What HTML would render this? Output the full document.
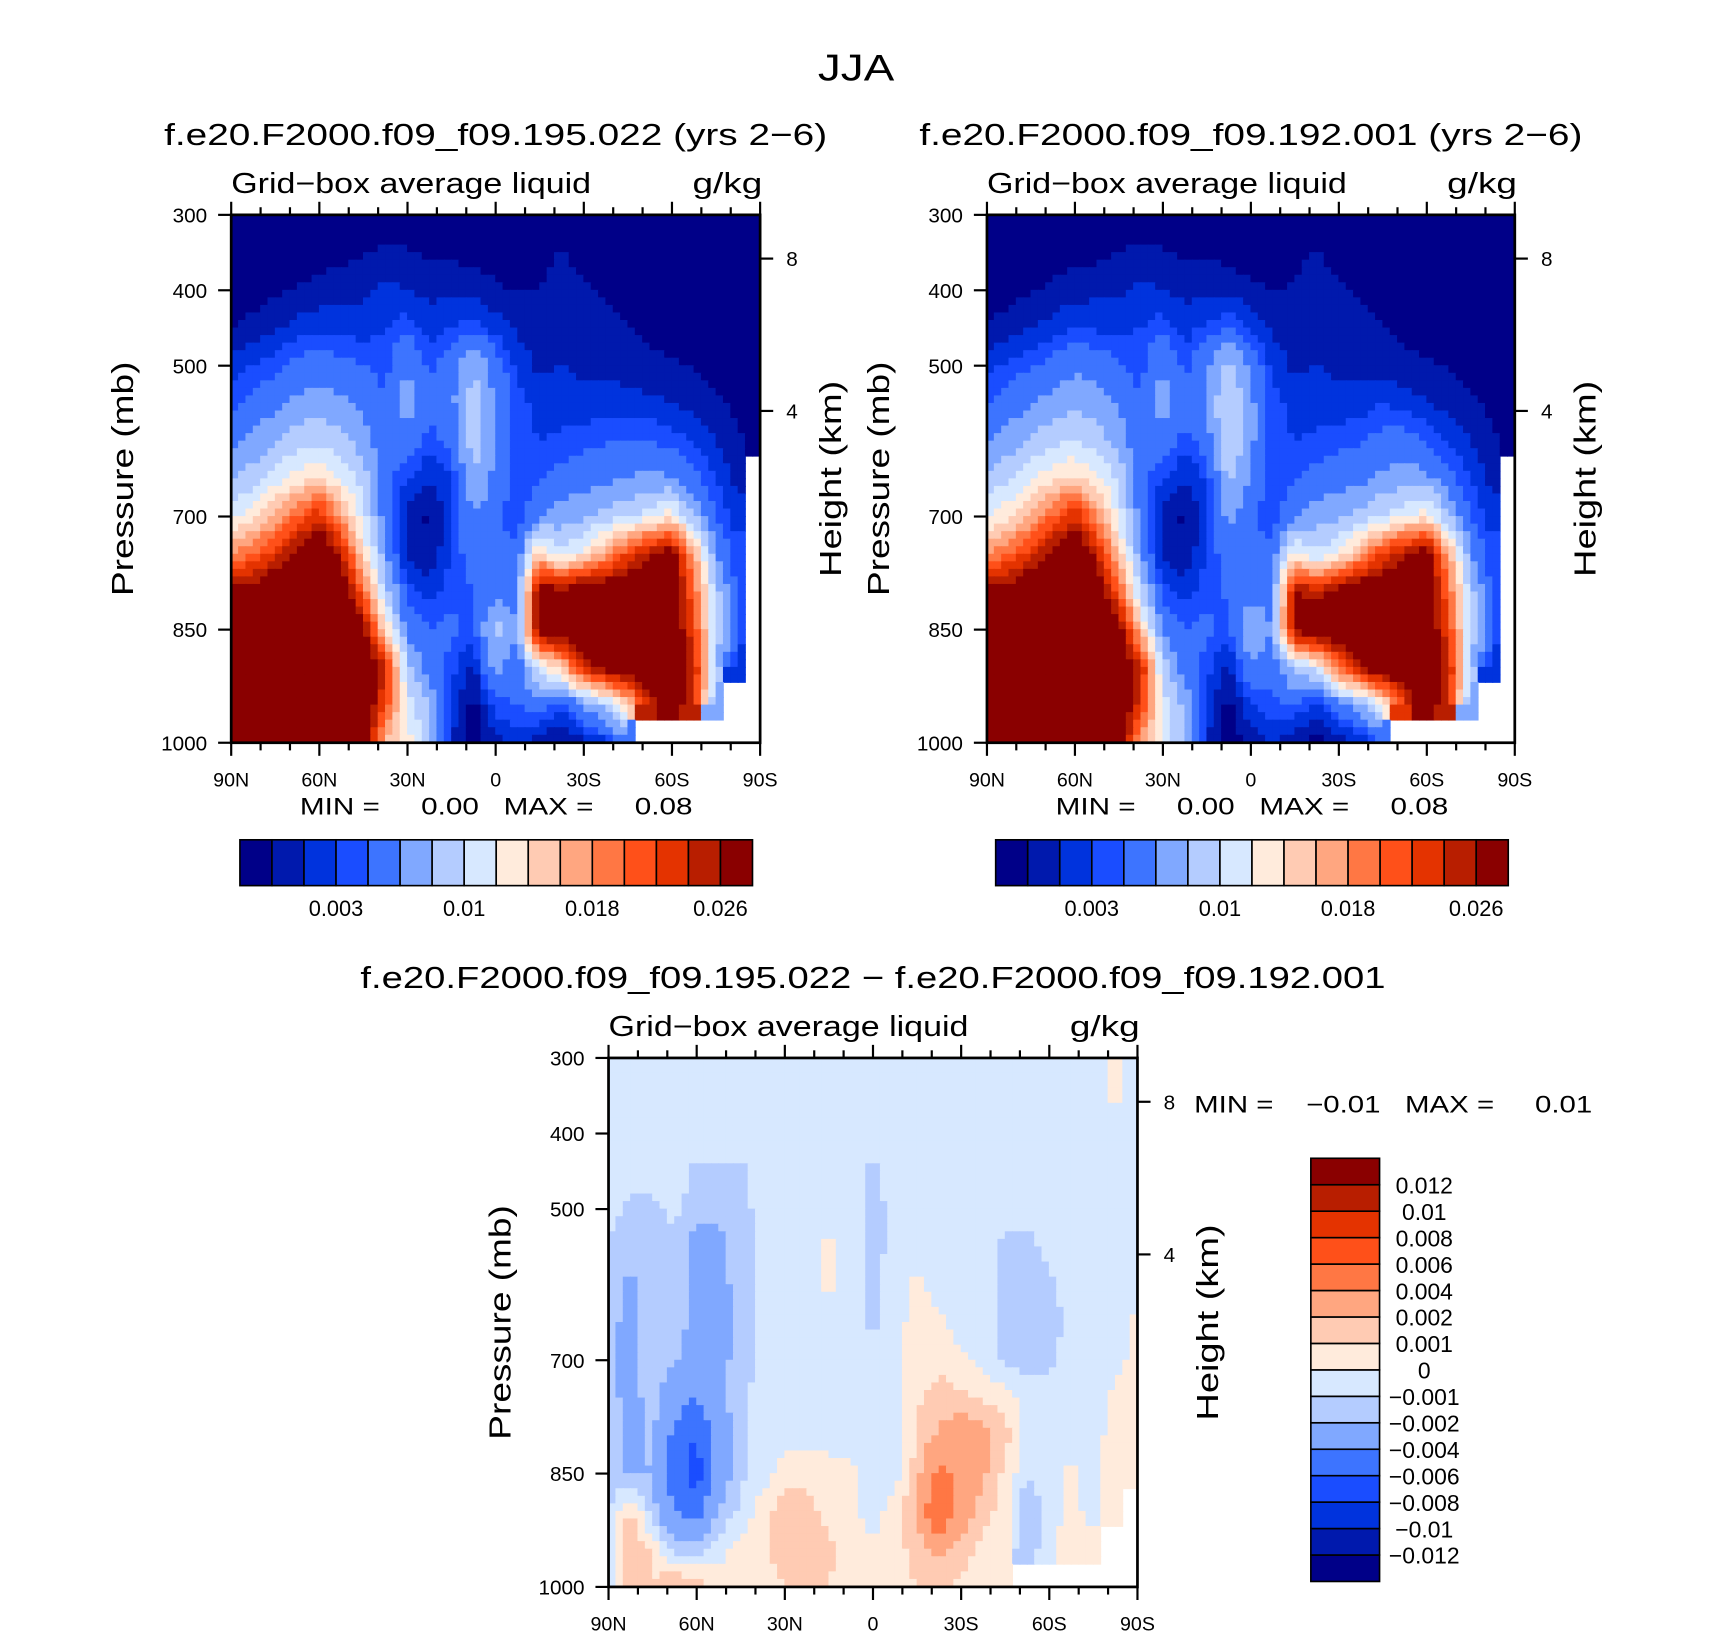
<!DOCTYPE html>
<html><head><meta charset="utf-8">
<style>
html,body{margin:0;padding:0;background:#fff;}
svg{display:block;font-family:"Liberation Sans",sans-serif;}
text{white-space:pre;}
</style></head>
<body>
<svg id="fig" width="1710" height="1636" viewBox="0 0 1568 1500" preserveAspectRatio="none" xmlns="http://www.w3.org/2000/svg">
<rect x="0" y="0" width="1568" height="1500" fill="#fff"/>
<text x="785" y="74" font-size="34" text-anchor="middle" textLength="70" lengthAdjust="spacingAndGlyphs">JJA</text>
<g id="p1"></g>
<g id="p2"></g>
<g id="p3"></g>
</svg>
<script>
const NS="http://www.w3.org/2000/svg";
// ---- data (values in units of 1e-3 g/kg) ----
const lats=[90,82.5,75,67.5,60,52.5,45,37.5,30,22.5,15,7.5,0,-7.5,-15,-22.5,-30,-37.5,-45,-52.5,-60,-67.5,-75,-82.5,-90];
const plevs=[300,350,400,450,500,550,600,650,700,750,800,850,900,950,1000];
const N=null;
const liquidA=[
[0.3,0.3,0.3,0.3,0.3,0.3,0.3,0.3,0.3,0.3,0.3,0.3,0.3,0.3,0.3,0.3,0.3,0.3,0.3,0.3,0.3,0.3,0.3,0.3,0.3],
[0.3,0.3,0.3,0.3,0.5,0.6,0.9,1.2,1.1,0.8,0.8,0.6,0.4,0.3,0.6,1.1,0.5,0.3,0.3,0.3,0.3,0.3,0.3,0.3,0.3],
[0.4,0.5,0.8,1.1,1.4,1.6,1.8,2.2,2.0,1.7,1.8,1.5,1.2,0.9,1.0,1.5,1.2,0.8,0.5,0.3,0.3,0.3,0.3,0.3,0.3],
[1.0,1.3,1.8,2.3,2.7,2.6,2.5,3.0,3.5,2.5,3.0,3.5,2.5,1.8,1.6,1.8,1.6,1.3,1.1,0.8,0.6,0.3,0.3,0.3,0.3],
[2.5,3.0,3.5,4.5,5.0,4.5,4.0,3.5,6.0,3.5,5.0,8.0,5.0,2.5,1.8,2.0,1.8,1.6,1.4,1.2,1.1,0.9,0.6,0.4,0.3],
[3.5,4.5,5.5,6.5,7.0,6.5,5.5,4.0,7.0,4.5,5.5,9.0,6.0,3.5,2.5,2.5,2.3,2.5,2.5,2.2,2.0,1.6,1.2,0.7,0.4],
[5.0,6.5,7.5,9.0,9.5,8.5,7.0,4.5,5.0,3.5,4.5,9.0,6.0,3.5,3.0,3.2,3.5,3.8,4.0,4.0,3.5,2.8,2.0,1.2,0.5],
[8,9,11,13,14,12,9,4.5,3,2,3,8,5.5,3,4,4.5,5,5.5,6,6.5,6,4.5,3,1.5,N],
[11,13,16,20,24,17,11,5,1.5,0.8,2.5,6,4.5,3,5.5,7,7.5,8.5,9.5,11,13,8,4,2.5,N],
[18,20,23,27,30,25,14,6.5,1.5,1.2,3,5,4,4.5,15,10,13,17,22,26,28,17,6,3,N],
[27,28,30,30,30,30,20,9,3.5,2.5,3.5,4,5,5,28,27,30,30,30,30,30,20,9,3.5,N],
[30,30,30,30,30,30,28,14,5,4,4.5,3.5,9,6,28,30,30,30,30,30,30,22,10,3.5,N],
[30,30,30,30,30,30,30,24,9,5,3.5,1.5,7,4.5,11,15,24,28,30,30,30,25,8,2.5,N],
[30,30,30,30,30,30,30,22,11,8,3,0.5,3.5,4,5,3,6,9,14,24,30,24,7,N,N],
[30,30,30,30,30,30,30,16,13,9,2,0.3,1.5,2.5,1.2,0.8,1.5,2.5,5,N,N,N,N,N,N]];
const liquidB=[
[0.3,0.3,0.3,0.3,0.3,0.3,0.3,0.3,0.3,0.3,0.3,0.3,0.3,0.3,0.3,0.3,0.3,0.3,0.3,0.3,0.3,0.3,0.3,0.3,0.3],
[0.3,0.3,0.3,0.4,0.6,0.7,1.0,1.2,1.1,0.8,0.8,0.6,0.4,0.3,0.7,1.1,0.5,0.3,0.3,0.3,0.3,0.3,0.3,0.3,0.3],
[0.5,0.6,0.9,1.2,1.5,1.7,1.8,2.2,2.0,1.7,1.8,1.6,1.3,0.9,1.1,1.6,1.2,0.8,0.5,0.3,0.3,0.3,0.3,0.3,0.3],
[1.1,1.4,1.9,2.4,2.9,2.8,2.6,3.0,3.5,2.5,3.2,3.8,2.8,1.8,1.6,1.8,1.6,1.3,1.1,0.8,0.6,0.3,0.3,0.3,0.3],
[2.6,3.2,3.8,4.6,5.5,5.0,4.2,3.5,6.0,3.5,5.5,9.0,5.5,2.5,1.8,2.0,1.8,1.6,1.4,1.2,1.1,0.9,0.6,0.4,0.3],
[3.8,4.8,5.8,6.8,7.5,7.0,5.8,4.0,7.0,4.5,6.0,10.5,6.5,3.5,2.5,2.5,2.3,2.5,3.0,2.6,2.0,1.6,1.2,0.7,0.4],
[5.5,7.0,8.0,9.5,10,9.0,7.2,4.5,5.0,3.5,4.8,10.5,6.5,3.5,3.0,3.2,3.5,3.8,4.5,4.8,3.8,2.8,2.0,1.2,0.5],
[8.5,9.5,11.5,13.5,14.5,12.5,9.5,4.5,3,2,3,8.5,6,3,4,4.5,5,5.5,6.5,7,6.5,4.5,3,1.5,N],
[11.5,13.5,16.5,20,24,17.5,11.5,5,1.5,0.8,2.5,6.5,4.5,3,5.5,7,7.5,8.5,10,11.5,13.5,8,4,2.5,N],
[18,20,23,27,30,25,15,6.5,1.5,1.2,3,5,4,4.5,13,10,12,17,22,26,28,17,6,3,N],
[27,28,30,30,30,30,21,9.5,3.5,2.5,3.5,4.2,5,5,26,25,28,30,30,30,30,20,9,3.5,N],
[30,30,30,30,30,30,28,15,5.5,4,4.5,3.5,8,6,27,30,30,30,30,30,30,22,10,3.5,N],
[30,30,30,30,30,30,30,25,9,5,3.5,1.5,6,4.5,9,11,20,26,30,30,30,25,8,2.5,N],
[30,30,30,30,30,30,30,23,11,7.5,3,0.5,3,3.5,4,2.5,5,7,12,22,30,24,7,N,N],
[30,30,30,30,30,30,30,17,12,8,2,0.3,1.3,2.3,1.0,0.7,1.2,2.0,4,N,N,N,N,N,N]];
const diffAB=[
[-0.5,-0.5,-0.5,-0.5,-0.5,-0.5,-0.5,-0.5,-0.5,-0.5,-0.5,-0.5,-0.5,-0.5,-0.5,-0.5,-0.5,-0.5,-0.5,-0.5,-0.5,-0.5,-0.5,0.4,-0.5],
[-0.5,-0.5,-0.5,-0.5,-0.5,-0.5,-0.5,-0.5,-0.5,-0.5,-0.5,-0.5,-0.5,-0.5,-0.5,-0.5,-0.5,-0.5,-0.5,-0.5,-0.5,-0.5,-0.5,0.3,-0.5],
[-0.5,-0.5,-0.5,-0.5,-0.5,-0.5,-0.5,-0.5,-0.5,-0.5,-0.5,-0.5,-0.5,-0.5,-0.5,-0.5,-0.5,-0.5,-0.5,-0.5,-0.5,-0.5,-0.5,-0.5,-0.5],
[-0.5,-0.5,-0.5,-0.5,-1.2,-1.2,-1.2,-0.5,-0.5,-0.5,-0.5,-0.5,-1.2,-0.5,-0.5,-0.5,-0.5,-0.5,-0.5,-0.5,-0.5,-0.5,-0.5,-0.5,-0.5],
[-0.6,-1.3,-1.2,-0.8,-1.5,-1.6,-1.4,-0.6,-0.5,-0.5,-0.5,-0.6,-1.3,-0.8,-0.5,-0.5,-0.5,-0.5,-0.5,-0.5,-0.5,-0.5,-0.5,-0.5,-0.5],
[-1.2,-1.5,-1.3,-1.2,-2.5,-2.5,-1.5,-0.8,-0.5,-0.5,0.3,-0.6,-1.3,-0.8,-0.5,-0.5,-0.5,-0.5,-1.3,-1.5,-0.6,-0.5,-0.5,-0.5,-0.5],
[-1.5,-2.2,-1.5,-1.4,-2.5,-2.5,-1.5,-0.8,-0.5,-0.5,0.3,-0.5,-1.2,-0.5,0.3,-0.5,-0.5,-0.5,-1.5,-1.8,-1.2,-0.6,-0.5,-0.5,-0.5],
[-1.5,-2.5,-1.5,-1.5,-2.2,-2.5,-1.6,-0.8,-0.5,-0.5,-0.5,-0.5,-1.2,-0.5,0.5,0.3,-0.5,-0.5,-1.3,-1.8,-1.5,-0.6,-0.5,-0.5,0.3],
[-1.6,-2.5,-1.5,-1.8,-3,-2.5,-1.5,-0.7,-0.5,-0.5,-0.5,-0.5,-0.6,-0.5,0.6,0.6,0.3,-0.5,-1.2,-1.5,-1.3,-0.6,-0.5,-0.5,0.5],
[-1.5,-2.5,-1.5,-3,-4,-2.5,-1.3,-0.6,-0.5,-0.5,-0.5,-0.5,-0.5,-0.5,0.8,1.5,1.2,0.8,0.5,-0.5,-0.5,-0.5,-0.5,0.3,0.6],
[-1.5,-2.5,-1.8,-4.5,-6,-3,-1.3,-0.6,-0.5,-0.5,-0.5,-0.5,-0.5,-0.5,1,2.2,3,2.5,1.5,-0.5,-0.5,-0.5,-0.5,0.5,0.8],
[-1.5,-2.2,-2,-5,-7,-3,-1.2,-0.5,0.5,0.8,0.5,0.3,-0.5,-0.5,1.5,4.5,3.5,2.2,0.8,-0.8,-0.5,0.3,-0.5,0.5,0.6],
[-1.2,1.2,-1.5,-4,-5,-2,-0.8,0.6,1.5,1.2,0.8,0.4,-0.5,0.5,2,6.5,3,1.5,0.5,-2,-0.6,0.5,-0.5,0.5,N],
[-0.8,2,0.8,-1.5,-1.5,-0.6,0.5,0.8,1.5,1.5,1.2,0.6,0.3,0.5,1.5,2.5,1.5,0.6,0.4,-1.5,-0.6,0.8,0.3,N,N],
[-0.5,1.5,1,2.5,1.5,0.8,0.6,0.5,1,1.2,1,0.5,0.5,0.6,1,1.2,0.8,0.4,0.3,N,N,N,N,N,N]];
const levelsAbs=[1,2,3,4,6,8,10,12,14,16,18,20,22,24,26];
const levelsDiff=[-12,-10,-8,-6,-4,-2,-1,0,1,2,4,6,8,10,12];
const absTickLabels=["0.003","0.01","0.018","0.026"];
const absTickIdx=[2,6,10,14];
const diffTickLabels=["-0.012","-0.01","-0.008","-0.006","-0.004","-0.002","-0.001","0","0.001","0.002","0.004","0.006","0.008","0.01","0.012"];
const pTicks=[300,400,500,700,850,1000];
const latTicks=[90,60,30,0,-30,-60,-90];
const latTickLabels=["90N","60N","30N","0","30S","60S","90S"];
const hTicks=[8,4];
const hTickP=[358,560];
const colors=["#000088","#0019ad","#0033dd","#1a4dff","#3d74ff","#80a8ff","#b4ccff","#d7e8ff","#ffebdc","#ffcbb3","#ffa680","#ff7744","#ff5019","#e43300","#b81e00","#8a0000"];

function el(tag,attrs,parent){const e=document.createElementNS(NS,tag);for(const k in attrs)e.setAttribute(k,attrs[k]);parent.appendChild(e);return e;}
function txt(parent,x,y,s,size,anchor,name,rot,len){const t=el('text',{x:x,y:y,'font-size':size,'text-anchor':anchor||'middle'},parent);


if(len){t.setAttribute('textLength',len);t.setAttribute('lengthAdjust','spacingAndGlyphs');}
if(rot)t.setAttribute('transform','rotate(-90 '+x+' '+y+')');t.textContent=s.replace(/-/g,'\u2212');return t;}
function cls(v,lev){let c=0;for(const l of lev)if(v>=l)c++;return c;}
function sample(data,lat,p){
  let fj=(90-lat)/7.5; fj=Math.max(0,Math.min(lats.length-1,fj));
  let fi=(p-300)/50; fi=Math.max(0,Math.min(plevs.length-1,fi));
  const j0=Math.floor(fj),i0=Math.floor(fi),j1=Math.min(j0+1,lats.length-1),i1=Math.min(i0+1,plevs.length-1);
  const a=fj-j0,b=fi-i0;
  const near=data[Math.round(fi)][Math.round(fj)];
  if(near===null)return null;
  const c=[data[i0][j0],data[i0][j1],data[i1][j0],data[i1][j1]];
  if(c.some(v=>v===null))return near;
  return c[0]*(1-a)*(1-b)+c[1]*a*(1-b)+c[2]*(1-a)*b+c[3]*a*b;
}
function panel(g,data,lev,x0,y0,w,h,title,name,tlen){
  const X=lat=>x0+(90-lat)/180*w, Y=p=>y0+(p-300)/700*h;
  const cg=el('g',{},g);
  
  
  const dl=2.5,dp=10;
  for(let p=300;p<1000;p+=dp){
    for(let la=90;la>-90;la-=dl){
      const v=sample(data,la-dl/2,p+dp/2); if(v===null)continue;
      const r=el('rect',{x:X(la)-0.4,y:Y(p)-0.4,width:X(la-dl)-X(la)+0.8,height:Y(p+dp)-Y(p)+0.8,fill:colors[cls(v,lev)]},cg);
      
      
    }
  }
  const fr=el('rect',{x:x0,y:y0,width:w,height:h,fill:'none',stroke:'#000','stroke-width':2.5},g);
  
  
  for(let l=-90;l<=90;l+=10){const x=X(l);const maj=(l%30===0);
    el('line',{x1:x,x2:x,y1:y0+h,y2:y0+h+(maj?12:7),stroke:'#000','stroke-width':2},g);
    el('line',{x1:x,x2:x,y1:y0,y2:y0-(maj?12:7),stroke:'#000','stroke-width':2},g);}
  latTicks.forEach((l,k)=>txt(g,X(l),y0+h+40,latTickLabels[k],18,'middle','lat-tick-label'));
  pTicks.forEach(p=>{el('line',{x1:x0,x2:x0-12,y1:Y(p),y2:Y(p),stroke:'#000','stroke-width':2},g);
    txt(g,x0-22,Y(p)+7,String(p),19,'end','pressure-tick-label');});
  hTicks.forEach((hk,k)=>{const y=Y(hTickP[k]);el('line',{x1:x0+w,x2:x0+w+12,y1:y,y2:y,stroke:'#000','stroke-width':2},g);
    txt(g,x0+w+24,y+7,String(hk),19,'start','height-tick-label');});
  txt(g,x0-90,y0+h/2,'Pressure (mb)',28,'middle','pressure-axis-title',true,215);
  txt(g,x0+w+74,y0+h/2,'Height (km)',28,'middle','height-axis-title',true,180);
  txt(g,x0,y0-20,'Grid-box average liquid',26,'start','variable-label',false,330);
  txt(g,x0+w+2,y0-20,'g/kg',26,'end','units-label',false,64);
  txt(g,x0+w/2,y0-64,title,28,'middle','panel-title',false,tlen);
}
function hbar(g,x0,y0,w,h){const bw=w/16;
  for(let k=0;k<16;k++){const r=el('rect',{x:x0+k*bw,y:y0,width:bw,height:h,fill:colors[k],stroke:'#000','stroke-width':1.5},g);
    
    }
  absTickIdx.forEach((b,k)=>txt(g,x0+(b+1)*bw,y0+h+28,absTickLabels[k],20,'middle','colorbar-label'));
}
const p1=document.getElementById('p1'),p2=document.getElementById('p2'),p3=document.getElementById('p3');
panel(p1,liquidA,levelsAbs,212,197,485,484,'f.e20.F2000.f09_f09.195.022 (yrs 2-6)','panel-control',608);
txt(p1,455,747,'MIN =     0.00   MAX =     0.08',22,'middle','min-max-label',false,360);
hbar(p1,220,770,470,42);
panel(p2,liquidB,levelsAbs,905,197,484,484,'f.e20.F2000.f09_f09.192.001 (yrs 2-6)','panel-test',608);
txt(p2,1148,747,'MIN =     0.00   MAX =     0.08',22,'middle','min-max-label',false,360);
hbar(p2,913,770,470,42);
panel(p3,diffAB,levelsDiff,558,970,485,485,'f.e20.F2000.f09_f09.195.022 - f.e20.F2000.f09_f09.192.001','panel-difference',940);
txt(p3,1095,1020,'MIN =    -0.01   MAX =     0.01',22,'start','min-max-label',false,365);
(function(){const x0=1202,y0=1062,w=63,h=388,bh=h/16;
  for(let k=0;k<16;k++){const r=el('rect',{x:x0,y:y0+h-(k+1)*bh,width:w,height:bh,fill:colors[k],stroke:'#000','stroke-width':1.5},p3);
    
    }
  diffTickLabels.forEach((s,k)=>txt(p3,1306,y0+h-(k+1)*bh+8,s,21,'middle','diff-colorbar-label'));
})();
</script>
</body></html>
